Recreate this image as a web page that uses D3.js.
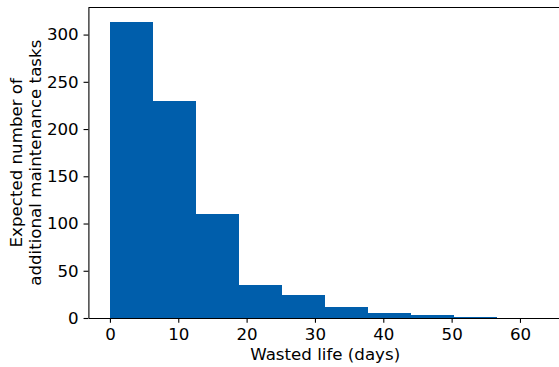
<!DOCTYPE html>
<html>
<head>
<meta charset="utf-8">
<script src="https://cdn.jsdelivr.net/npm/d3@7"></script>
<style>
    body { margin: 0; background: #fff; }
    svg { display: block; font-family: "DejaVu Sans", sans-serif; }
    .axis text { font-size: 16.67px; fill: #000; font-family: "DejaVu Sans", sans-serif; }
    .axis path, .axis line { stroke: #000; stroke-width: 1.1; }
    .axis-title { font-size: 16.67px; fill: #000; }
</style>
</head>
<body>
<div id="chart"></div>
<script>

// Histogram data
let binEdges = [0, 6.3, 12.6, 18.9, 25.2, 31.5, 37.8, 44.1, 50.4, 56.7, 63];
let counts = [313, 230, 110, 35, 24, 11.3, 5.6, 3.2, 1.2, 0.2];
let xTicks = [0, 10, 20, 30, 40, 50, 60];
let yTicks = [0, 50, 100, 150, 200, 250, 300];

let bins = counts.map((c, i) => ({x0: binEdges[i], x1: binEdges[i + 1], value: c}));

let margin = {top: 7.5, right: -3, bottom: 49, left: 88.4};
let width = 559 - margin.left - margin.right;
let height = 367 - margin.top - margin.bottom;

let svg = d3.select("#chart").append("svg")
    .attr("width", 559)
    .attr("height", 367);

let g = svg.append("g")
    .attr("transform", "translate(" + margin.left + "," + margin.top + ")");

// matplotlib-style 5% margins on x
let xMin = binEdges[0], xMax = binEdges[binEdges.length - 1];
let pad = (xMax - xMin) * 0.05;

let x = d3.scaleLinear()
    .domain([xMin - pad, xMax + pad])
    .range([0, width]);

let y = d3.scaleLinear()
    .domain([0, d3.max(counts) * 1.05])
    .range([height, 0]);

// Bars
g.selectAll(".bar")
    .data(bins)
    .enter().append("rect")
    .attr("class", "bar")
    .attr("x", d => x(d.x0))
    .attr("width", d => x(d.x1) - x(d.x0))
    .attr("y", d => y(d.value))
    .attr("height", d => height - y(d.value))
    .attr("fill", "#005eab")
    .attr("shape-rendering", "crispEdges");

// Axes
let tick = 4.86;
let xAxis = d3.axisBottom(x)
    .tickValues(xTicks)
    .tickSize(tick)
    .tickPadding(tick)
    .tickSizeOuter(0);
let yAxis = d3.axisLeft(y)
    .tickValues(yTicks)
    .tickSize(tick)
    .tickPadding(tick)
    .tickSizeOuter(0);

g.append("g")
    .attr("class", "axis x-axis")
    .attr("transform", "translate(0," + height + ")")
    .call(xAxis);

g.append("g")
    .attr("class", "axis y-axis")
    .call(yAxis);

// top + right spines
g.append("line")
    .attr("x1", 0).attr("x2", width)
    .attr("y1", 0).attr("y2", 0)
    .attr("stroke", "#000").attr("stroke-width", 1.1);
g.append("line")
    .attr("x1", width).attr("x2", width)
    .attr("y1", 0).attr("y2", height)
    .attr("stroke", "#000").attr("stroke-width", 1.1);

// Axis labels
g.append("text")
    .attr("class", "axis-title")
    .attr("text-anchor", "middle")
    .attr("x", width / 2)
    .attr("y", height + 42)
    .text("Wasted life (days)");

let yLabel = g.append("text")
    .attr("class", "axis-title")
    .attr("text-anchor", "middle")
    .attr("transform", "rotate(-90)");
yLabel.append("tspan")
    .attr("x", -height / 2)
    .attr("y", -66)
    .text("Expected number of");
yLabel.append("tspan")
    .attr("x", -height / 2)
    .attr("y", -47)
    .text("additional maintenance tasks");

</script>
</body>
</html>
